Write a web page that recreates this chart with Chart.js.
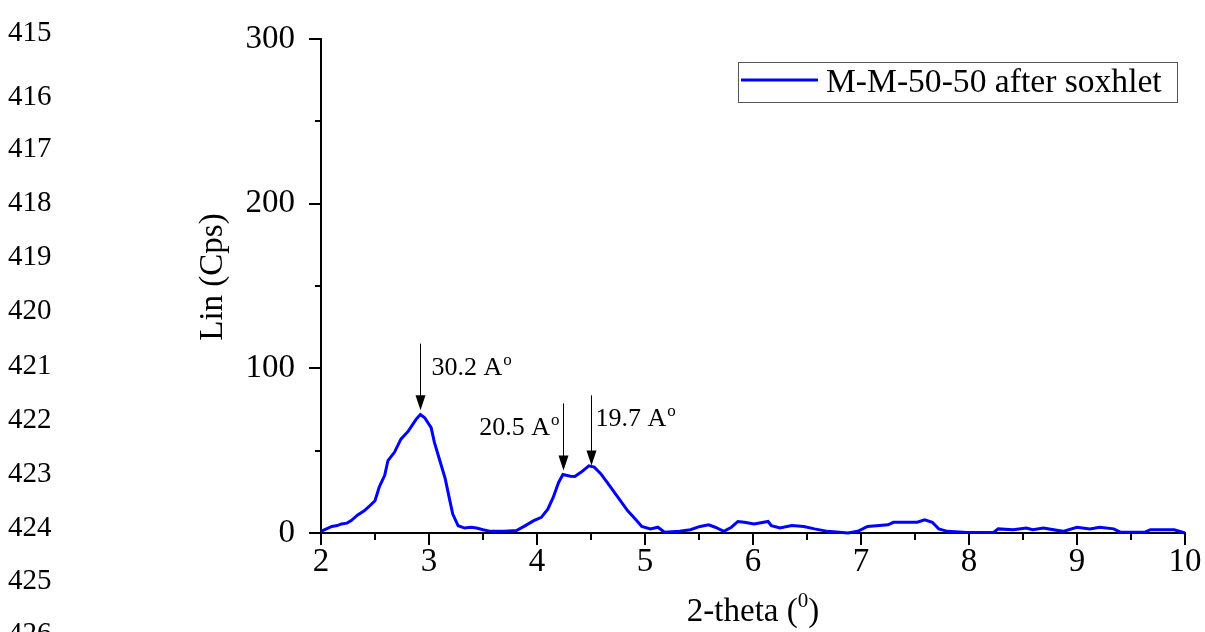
<!DOCTYPE html>
<html><head><meta charset="utf-8">
<script src="https://cdn.jsdelivr.net/npm/chart.js@4.4.1/dist/chart.umd.min.js"></script>
<style>html,body{margin:0;padding:0;background:#fff;overflow:hidden}canvas{display:block}</style>
</head><body>
<canvas id="c" width="1205" height="632"></canvas>
<script>
// ---- data ----
const seriesLabel = 'M-M-50-50 after soxhlet';
const xValues = [2.00,2.05,2.10,2.15,2.19,2.24,2.28,2.34,2.40,2.44,2.50,2.54,2.59,2.62,2.68,2.74,2.81,2.88,2.92,2.96,3.02,3.05,3.10,3.15,3.19,3.22,3.27,3.33,3.39,3.44,3.50,3.57,3.70,3.81,3.88,3.97,4.04,4.10,4.15,4.20,4.24,4.31,4.35,4.41,4.48,4.53,4.59,4.65,4.74,4.84,4.91,4.97,5.05,5.12,5.18,5.32,5.42,5.51,5.59,5.65,5.73,5.80,5.86,5.92,6.01,6.14,6.17,6.25,6.36,6.47,6.57,6.69,6.88,6.97,7.06,7.25,7.30,7.52,7.59,7.66,7.72,7.80,7.98,8.23,8.27,8.41,8.53,8.59,8.69,8.87,9.00,9.12,9.21,9.34,9.40,9.63,9.68,9.90,10.00];
const yValues = [1.0,2.5,4,4.5,5.5,6,7.5,11,13.5,15.8,19.6,28,35,44,49,57,62,69,72,70,64,55,44,33,20.6,11.5,4.4,3,3.5,3,2,1,1,1.5,4,7.5,9.5,14.5,21.6,30.7,35.5,34.5,34.3,37,40.8,40,36,30.7,22.6,13.5,8.5,4,2.5,3.5,0.5,1,2,4,5,3.5,1,3.5,7,6.5,5.5,7,4.5,3,4.5,4,2.5,1,0,1,4,5,6.5,6.5,8,6.5,2.5,1,0.3,0.5,2.5,2,3,2,3,1,3.5,2.5,3.5,2.5,0.5,0.5,2,2,0];
const xTickValues = [2,3,4,5,6,7,8,9,10];
const xMinorTicks = [2.5,3.5,4.5,5.5,6.5,7.5,8.5,9.5];
const yTickValues = [0,100,200,300];
const yMinorTicks = [50,150,250];
const xTitle = '2-theta (';
const xTitleSup = '0';
const yTitle = 'Lin (Cps)';
// peak annotations
const arrowX = [2.92, 4.245, 4.497];
const arrowTip = [74.5, 38, 41];
const arrowTop = [115, 78.7, 83.6];
const arrowText = ['30.2 A', '20.5 A', '19.7 A'];
const arrowTextY = [95.7, 59.3, 64.7];
const arrowTextSide = ['right', 'left', 'right'];
// document line numbers
const lineNumbers = ['415','416','417','418','419','420','421','422','423','424','425','426'];

const serif = "'Liberation Serif','Times New Roman',serif";
const lineNumberY = [33, 97, 149, 203, 257, 311, 366, 420, 474, 528, 581, 634];

const decor = {
  id: 'decor',
  afterDraw(chart) {
    const {ctx, chartArea: a, scales: {x, y}} = chart;
    ctx.save();
    ctx.strokeStyle = '#000';
    ctx.lineWidth = 2;
    const seg = (x1, y1, x2, y2) => { ctx.beginPath(); ctx.moveTo(x1, y1); ctx.lineTo(x2, y2); ctx.stroke(); };
    xTickValues.forEach(v => { const p = Math.round(x.getPixelForValue(v)); seg(p, a.bottom, p, a.bottom + 12); });
    xMinorTicks.forEach(v => { const p = Math.round(x.getPixelForValue(v)); seg(p, a.bottom, p, a.bottom + 7); });
    yTickValues.forEach(v => { const p = Math.round(y.getPixelForValue(v)); seg(a.left, p, a.left - 12, p); });
    yMinorTicks.forEach(v => { const p = Math.round(y.getPixelForValue(v)); seg(a.left, p, a.left - 6, p); });

    // arrows
    ctx.lineWidth = 1;
    ctx.fillStyle = '#000';
    arrowX.forEach((v, i) => {
      const px = Math.round(x.getPixelForValue(v)) + 0.5;
      const tip = y.getPixelForValue(arrowTip[i]);
      const top = y.getPixelForValue(arrowTop[i]);
      seg(px, top, px, tip - 12);
      ctx.beginPath();
      ctx.moveTo(px - 5, tip - 15);
      ctx.lineTo(px + 5, tip - 15);
      ctx.lineTo(px, tip);
      ctx.closePath();
      ctx.fill();
      const by = y.getPixelForValue(arrowTextY[i]);
      ctx.font = '26px ' + serif;
      ctx.textBaseline = 'alphabetic';
      const w = ctx.measureText(arrowText[i]).width;
      ctx.font = '17px ' + serif;
      const wo = ctx.measureText('o').width;
      let tx = arrowTextSide[i] === 'right' ? px + 11 : px - 4 - w - wo - 1;
      if (i === 2) tx = px + 4;
      ctx.font = '26px ' + serif;
      ctx.textAlign = 'left';
      ctx.fillText(arrowText[i], tx, by);
      ctx.font = '17px ' + serif;
      ctx.fillText('o', tx + w + 1, by - 10);
    });

    // legend
    const ds = chart.data.datasets[0];
    ctx.strokeStyle = '#555';
    ctx.lineWidth = 1;
    ctx.strokeRect(738.5, 62.5, 439, 40);
    ctx.strokeStyle = ds.borderColor;
    ctx.lineWidth = 3;
    seg(741, 80, 818, 80);
    ctx.fillStyle = '#000';
    ctx.font = '33.6px ' + serif;
    ctx.textAlign = 'left';
    ctx.textBaseline = 'alphabetic';
    ctx.fillText(ds.label, 826, 92);

    // axis titles
    ctx.font = '33px ' + serif;
    const wt = ctx.measureText(xTitle).width;
    ctx.font = '21px ' + serif;
    const ws = ctx.measureText(xTitleSup).width;
    ctx.font = '33px ' + serif;
    const wp = ctx.measureText(')').width;
    const total = wt + ws + wp;
    const cx = (a.left + a.right) / 2;
    let sx = cx - total / 2;
    ctx.fillText(xTitle, sx, 621);
    ctx.font = '21px ' + serif;
    ctx.fillText(xTitleSup, sx + wt, 607);
    ctx.font = '33px ' + serif;
    ctx.fillText(')', sx + wt + ws, 621);

    ctx.save();
    ctx.translate(222, 277);
    ctx.rotate(-Math.PI / 2);
    ctx.textAlign = 'center';
    ctx.fillText(yTitle, 0, 0);
    ctx.restore();

    // line numbers
    ctx.font = '29px ' + serif;
    ctx.textAlign = 'left';
    ctx.textBaseline = 'middle';
    lineNumbers.forEach((t, i) => ctx.fillText(t, 8, lineNumberY[i]));
    ctx.restore();
  }
};

new Chart(document.getElementById('c'), {
  type: 'line',
  data: {
    datasets: [{
      label: seriesLabel,
      data: xValues.map((v, i) => ({x: v, y: yValues[i]})),
      borderColor: '#0000ff',
      borderWidth: 3,
      pointRadius: 0,
      tension: 0,
      fill: false,
      clip: false
    }]
  },
  options: {
    responsive: false,
    animation: false,
    devicePixelRatio: 1,
    layout: {padding: {top: 39, right: 20, left: 0, bottom: 0}},
    plugins: {legend: {display: false}, tooltip: {enabled: false}},
    scales: {
      x: {
        type: 'linear', min: 2, max: 10,
        afterBuildTicks: s => { s.ticks = xTickValues.map(v => ({value: v})); },
        afterFit: s => { s.height = 99; },
        grid: {display: false},
        border: {display: true, color: '#000', width: 2},
        ticks: {color: '#000', font: {family: serif, size: 33}, padding: 2, maxRotation: 0, autoSkip: false}
      },
      y: {
        min: 0, max: 300,
        afterBuildTicks: s => { s.ticks = yTickValues.map(v => ({value: v})); },
        afterFit: s => { s.width = 321; },
        grid: {display: false},
        border: {display: true, color: '#000', width: 2},
        ticks: {color: '#000', font: {family: serif, size: 33}, padding: 18}
      }
    }
  },
  plugins: [decor]
});
</script>
</body></html>
